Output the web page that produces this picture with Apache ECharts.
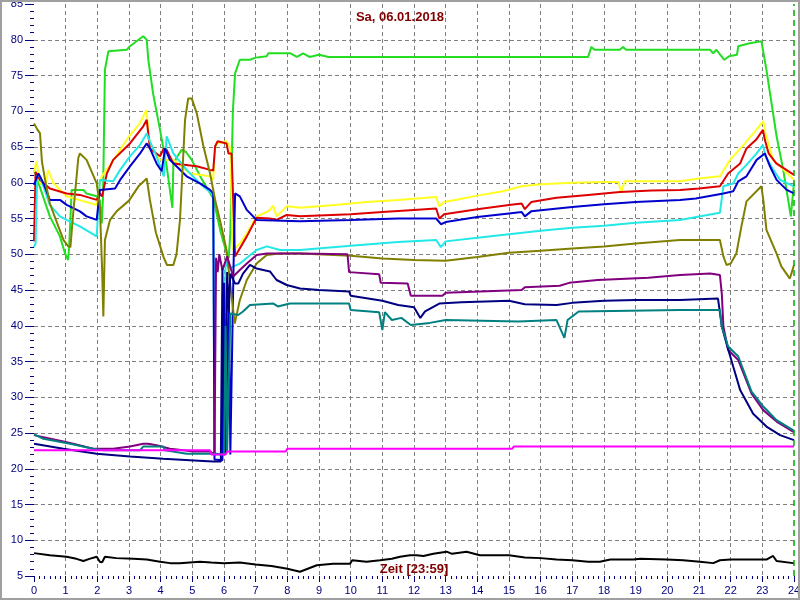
<!DOCTYPE html>
<html><head><meta charset="utf-8">
<script src="https://cdn.jsdelivr.net/npm/echarts@6/dist/echarts.min.js"></script>
<style>html,body{margin:0;padding:0;background:#fff}#c{width:800px;height:600px}</style>
</head><body><div id="c"></div>
<script>
const titleText = 'Sa, 06.01.2018';
const xLabelText = 'Zeit [23:59]';
const yUnit = '°C';

const green = [[0,61.8],[0.1,60.5],[0.5,55.3],[0.82,52.5],[0.98,50.1],[1.08,49.2],[1.12,52],[1.19,59.0],[1.56,59.0],[1.66,58.5],[1.98,58.1],[2.08,57.5],[2.14,54.3],[2.18,58],[2.2,64],[2.24,75.8],[2.35,78.4],[2.93,78.6],[3.03,79.1],[3.24,79.8],[3.45,80.5],[3.56,80.0],[3.61,77.2],[3.76,72.5],[3.98,67.4],[4.19,62.3],[4.37,56.5],[4.4,62.5],[4.5,63.5],[4.66,64.6],[4.8,64.3],[4.98,63.2],[5.3,60.5],[5.66,57.8],[5.9,53],[6.08,50.2],[6.15,49.5],[6.2,53],[6.24,62],[6.28,70],[6.35,75.3],[6.5,77.2],[6.82,77.2],[7.0,77.5],[7.35,77.7],[7.4,78.1],[8.1,78.1],[8.3,77.6],[8.5,78.1],[8.7,77.6],[9.0,77.9],[9.3,77.6],[10,77.6],[12,77.6],[14,77.6],[16,77.6],[17.5,77.6],[17.6,79.0],[17.7,78.6],[18.5,78.6],[18.6,79.0],[18.7,78.6],[21.35,78.6],[21.45,78.1],[21.55,78.6],[21.8,77.2],[21.95,77.7],[22.2,77.9],[22.24,79.1],[22.6,79.5],[22.97,79.8],[23.03,79.8],[23.13,75.8],[23.45,66.5],[23.66,61.8],[23.9,55.3],[24,60]];
const yellow = [[0,61.5],[0.08,63.0],[0.19,59.9],[0.35,59.5],[0.45,61.8],[0.5,61.8],[0.6,60.0],[1.03,58.1],[1.5,57.5],[1.98,56.9],[2.08,60.0],[2.14,60.9],[2.44,62.7],[3.0,66.5],[3.34,68.3],[3.55,70.2],[3.66,65.1],[3.98,63.2],[4.4,63.2],[4.93,61.3],[5.56,60.9],[5.66,60.4],[5.72,65.0],[5.77,65.5],[6.08,65.8],[6.2,64.9],[6.25,55],[6.29,50.6],[6.5,51.5],[6.72,52.9],[7.03,55.3],[7.3,55.8],[7.45,56.2],[7.55,56.8],[7.66,55.3],[7.98,56.7],[8.4,56.5],[9.5,56.9],[10.5,57.3],[11.5,57.6],[12.7,58.0],[12.8,56.7],[12.95,57.3],[13.3,57.6],[14.0,58.2],[14.8,58.8],[15.4,59.5],[16.0,59.8],[17.0,60.0],[18.0,60.1],[18.45,60.1],[18.55,58.6],[18.65,60.2],[19.5,60.2],[20.4,60.2],[21.0,60.6],[21.66,60.9],[21.98,63.2],[22.45,65.5],[22.77,67.2],[23.03,68.6],[23.1,66.9],[23.34,63.2],[23.56,62.3],[24,60.4]];
const red = [[0,51.8],[0.05,61.5],[0.19,60.4],[0.5,59.2],[1.03,58.5],[1.45,58.3],[1.98,57.6],[2.08,58.5],[2.15,58.1],[2.3,61.3],[2.5,63.2],[3.03,65.5],[3.45,67.9],[3.56,68.8],[3.66,64.8],[3.98,63.7],[4.1,64.8],[4.19,64.6],[4.4,62.7],[5.14,62.3],[5.56,61.8],[5.66,61.7],[5.72,65.1],[5.8,65.8],[6.08,65.5],[6.14,64.1],[6.24,64.1],[6.28,63.9],[6.35,49.7],[6.72,52.5],[7.03,55.1],[7.45,55.0],[7.66,54.8],[7.98,55.5],[8.4,55.3],[10,55.6],[11,55.9],[12,56.2],[12.7,56.4],[12.8,55.0],[12.95,55.6],[14,56.3],[15,56.9],[15.4,57.1],[15.5,56.3],[15.7,57.3],[16.5,57.9],[17.5,58.3],[18.5,58.7],[19.5,58.9],[20.4,59.0],[21.0,59.2],[21.66,59.5],[21.92,61.3],[22.3,62.7],[22.5,64.8],[22.8,66.0],[23.02,67.4],[23.08,66.0],[23.2,64.1],[23.44,62.7],[24,61.1]];
const cyan = [[0,51.0],[0.05,51.5],[0.1,61.0],[0.19,60.9],[0.5,56.9],[0.82,55.3],[1.03,54.8],[1.45,53.9],[1.98,52.5],[2.03,52.3],[2.08,60.4],[2.5,60.2],[2.72,61.8],[3.03,63.7],[3.35,65.3],[3.56,66.9],[3.66,65.8],[3.87,63.7],[3.98,62.3],[4.1,60.9],[4.19,66.5],[4.4,64.1],[4.82,61.8],[5.24,59.9],[5.66,58.3],[5.7,22],[5.95,22],[6.05,49],[6.15,48],[6.3,48.3],[6.5,48.7],[7.03,50.6],[7.35,51.1],[7.77,50.6],[8.4,50.6],[10,51.2],[11.5,51.7],[12.7,52.0],[12.85,51.0],[13.0,51.8],[14,52.3],[15,52.8],[16,53.3],[17,53.7],[18,54.0],[19,54.4],[20.4,54.8],[21.66,55.8],[21.77,59.5],[22.08,59.9],[22.24,61.3],[22.5,62.5],[22.82,64.1],[23.02,65.3],[23.1,63.7],[23.35,61.8],[23.56,60.4],[24,59.5]];
const blue = [[0,59.7],[0.14,61.3],[0.3,59.9],[0.5,57.6],[0.82,57.6],[1.03,56.9],[1.45,56.0],[1.66,55.3],[1.98,54.8],[2.03,54.6],[2.08,59.0],[2.56,59.2],[2.72,60.4],[3.03,62.3],[3.35,64.1],[3.56,65.5],[3.66,64.8],[3.87,62.7],[4.03,61.6],[4.14,64.8],[4.29,63.2],[4.5,62.3],[4.82,60.9],[5.24,59.9],[5.56,59.0],[5.66,58.5],[5.7,21.3],[5.95,21.2],[6.0,46],[6.05,22],[6.15,45],[6.2,22],[6.3,48],[6.35,58.5],[6.5,58.1],[6.72,56.2],[7.03,54.8],[8.4,54.6],[10,54.8],[11.5,55.0],[12.7,55.0],[12.85,54.2],[13.0,54.5],[14,55.2],[15,55.7],[15.4,55.9],[15.5,55.3],[15.7,56.0],[17,56.6],[18,57.0],[19,57.3],[20.4,57.6],[20.9,57.8],[21.77,58.5],[22.08,58.8],[22.24,60.2],[22.5,60.9],[22.82,63.2],[23.08,64.1],[23.24,62.3],[23.45,60.4],[23.77,59.0],[24,58.5]];
const olive = [[0,68.3],[0.1,67.5],[0.19,66.9],[0.25,63],[0.35,60.4],[0.5,57.1],[0.77,53.9],[0.93,52.0],[1.08,51.1],[1.15,51.0],[1.24,55.8],[1.4,63.5],[1.45,64.1],[1.66,63.2],[1.98,59.9],[2.08,56.7],[2.15,48],[2.19,41.3],[2.24,52.0],[2.4,54.8],[2.61,56.0],[3.0,57.5],[3.3,59.5],[3.56,60.6],[3.66,57.6],[3.85,53],[4.1,49.5],[4.2,48.5],[4.4,48.5],[4.5,50],[4.61,54.8],[4.77,68.8],[4.87,71.8],[4.98,71.8],[5.14,69.7],[5.35,65.1],[5.56,61.3],[5.72,57.6],[5.87,54.8],[6.08,50.6],[6.24,44.1],[6.34,40.3],[6.5,43.6],[6.72,46.4],[7.03,48.7],[7.35,49.9],[7.77,50.1],[8.4,50.1],[10,49.8],[11,49.4],[12,49.2],[13,49.1],[14,49.6],[15,50.2],[16,50.5],[17,50.8],[18,51.1],[19,51.5],[20.4,52.0],[21.66,52.0],[21.77,49.7],[21.87,48.5],[22.0,48.7],[22.18,50.1],[22.34,53.9],[22.5,57.4],[22.97,59.5],[23.03,57.6],[23.13,53.4],[23.45,50.1],[23.6,48.3],[23.87,46.6],[24,48.5]];
const purple = [[0,24.7],[0.93,23.8],[1.24,23.5],[1.87,22.8],[2.5,22.8],[3.03,23.1],[3.45,23.5],[3.6,23.5],[3.87,23.3],[4.29,22.8],[4.72,22.6],[5.03,22.4],[5.56,22.4],[5.7,22.0],[5.75,49.5],[5.8,47.5],[5.85,50],[5.95,47.8],[6.1,49.7],[6.29,46.9],[6.5,47.8],[6.72,48.7],[7.03,49.9],[7.35,50.1],[8.4,50.1],[9.9,50.0],[9.95,47.5],[10.9,47.2],[10.95,46.0],[11.8,45.9],[11.9,44.2],[12.9,44.2],[13.0,44.6],[15.4,45.0],[15.5,45.4],[16.6,45.6],[16.9,46.0],[17.8,46.4],[19.4,46.7],[20.4,47.1],[21.35,47.3],[21.66,47.1],[21.72,44.5],[21.77,39.9],[21.92,36.6],[22.24,35.2],[22.66,30.5],[23.03,28.2],[23.45,26.6],[23.97,25.2],[24,25.1]];
const navy = [[0,23.5],[0.93,22.8],[1.98,22.1],[3.03,21.7],[4.08,21.4],[5.35,21.1],[5.66,21.0],[5.9,21.0],[5.95,48],[6.0,22],[6.1,47.5],[6.15,42],[6.2,47.3],[6.35,45.9],[6.45,45.9],[6.6,47.3],[6.82,48.5],[7.03,48.0],[7.45,47.6],[7.66,46.4],[7.98,45.7],[8.4,45.2],[9.0,45.0],[9.95,44.8],[10.0,44.2],[11.0,43.5],[11.5,42.9],[12.0,42.6],[12.2,41.1],[12.35,42.0],[12.8,43.1],[13.5,43.3],[15.0,43.5],[15.5,43.0],[16.5,42.9],[17.0,43.2],[18.0,43.5],[19.0,43.6],[20.4,43.6],[21.6,43.8],[21.66,43.6],[21.72,39.9],[21.87,37.5],[22.08,34.3],[22.3,31.0],[22.71,27.7],[23.13,25.9],[23.56,24.7],[24,24.0]];
const teal = [[0,24.8],[0.3,24.2],[1.14,23.5],[1.87,22.8],[2.19,22.6],[3.35,22.6],[3.45,23.1],[4.08,23.1],[4.14,22.6],[4.82,22.1],[5.77,22.1],[6.0,22.0],[6.05,40],[6.1,22.5],[6.2,41.7],[6.45,41.5],[6.6,42.0],[6.82,42.9],[7.56,43.1],[7.7,42.7],[8.08,43.1],[9.95,43.1],[10.0,42.2],[10.9,41.9],[11.0,39.4],[11.08,41.9],[11.3,40.8],[11.6,41.1],[11.9,40.1],[12.5,40.4],[13.0,40.8],[15.3,40.6],[16.5,40.8],[16.75,38.3],[16.85,40.8],[17.2,42.0],[20.4,42.2],[21.66,42.2],[21.72,39.9],[21.92,37.1],[22.24,35.7],[22.66,30.8],[23.03,28.7],[23.45,26.8],[23.97,25.4],[24,25.3]];
const magenta = [[0,22.6],[5.55,22.6],[5.6,22.0],[6.05,22.0],[6.1,22.4],[7.95,22.4],[8.0,22.8],[15.1,22.8],[15.15,23.1],[24,23.1]];
const black = [[0,8.2],[0.5,7.9],[1.03,7.7],[1.34,7.4],[1.56,7.1],[1.75,7.4],[1.98,7.7],[2.08,7.0],[2.15,6.9],[2.24,7.7],[2.6,7.5],[3.14,7.4],[3.56,7.3],[3.98,7.0],[4.3,6.8],[4.6,6.8],[5.24,7.0],[5.6,6.9],[6.0,6.8],[6.5,6.9],[7.0,6.6],[7.5,6.4],[8.0,6.0],[8.4,5.6],[8.93,6.5],[9.45,6.7],[9.98,6.7],[10.05,7.2],[10.5,7.0],[10.93,7.2],[11.3,7.4],[11.56,7.7],[11.87,7.9],[12.08,7.9],[12.3,7.8],[12.61,8.1],[13.03,8.4],[13.2,8.1],[13.66,8.4],[14.08,7.9],[14.71,7.9],[15.0,7.9],[15.5,7.6],[16.0,7.5],[16.5,7.3],[17.0,7.2],[17.5,7.0],[17.87,7.0],[18.2,7.3],[18.93,7.3],[19.14,7.4],[19.98,7.3],[20.5,7.2],[21.03,7.0],[21.45,6.8],[21.66,7.2],[22.0,7.3],[23.13,7.3],[23.34,7.8],[23.45,7.1],[23.97,6.8],[24,6.8]];

const seriesDefs = [
  ['green', green, '#22dd22'],
  ['yellow', yellow, '#ffff22'],
  ['red', red, '#dd0000'],
  ['cyan', cyan, '#22e8e8'],
  ['blue', blue, '#0000cc'],
  ['olive', olive, '#808000'],
  ['purple', purple, '#800080'],
  ['navy', navy, '#000080'],
  ['teal', teal, '#008080'],
  ['magenta', magenta, '#ff00ff'],
  ['black', black, '#000000']
];

const FONT = 'Liberation Sans, Arial, sans-serif';
const chart = echarts.init(document.getElementById('c'), null, {renderer:'canvas'});
const series = seriesDefs.map(([name, data, color]) => ({
  name, type:'line', data, showSymbol:false, symbol:'none', animation:false,
  lineStyle:{color, width:2}, itemStyle:{color}, z:2
}));
series[series.length-1].markLine = {
  silent:true, symbol:'none', label:{show:false}, animation:false,
  lineStyle:{color:'#00aa00', type:[6,4], width:1.5},
  data:[{xAxis:24}]
};
chart.setOption({
  animation:false,
  backgroundColor:'#ffffff',
  grid:{left:34, right:6, top:4, bottom:24, containLabel:false, outerBoundsMode:'none'},
  xAxis:{type:'value', min:0, max:24, interval:1,
    axisLine:{show:false},
    axisTick:{show:true, length:6, lineStyle:{color:'#000080'}},
    minorTick:{show:true, splitNumber:6, length:3, lineStyle:{color:'#000080'}},
    axisLabel:{color:'#000080', fontSize:11, fontFamily:FONT, margin:9},
    splitLine:{show:true, showMinLine:false, showMaxLine:false, lineStyle:{color:'#808080', type:[4,3], width:1}}
  },
  yAxis:{type:'value', min:5, max:85, interval:5,
    name:yUnit, nameLocation:'middle', nameRotate:90, nameGap:22,
    nameTextStyle:{color:'#800000', fontSize:13, fontFamily:FONT},
    axisLine:{show:false},
    axisTick:{show:true, length:9, lineStyle:{color:'#000080'}},
    minorTick:{show:true, splitNumber:5, length:4, lineStyle:{color:'#000080'}},
    axisLabel:{color:'#000080', fontSize:11, fontFamily:FONT, margin:11},
    splitLine:{show:true, showMinLine:false, showMaxLine:false, lineStyle:{color:'#808080', type:[4,3], width:1}}
  },
  graphic:[
    {type:'rect', shape:{x:1, y:1, width:798, height:598}, style:{fill:null, stroke:'#a0a0a0', lineWidth:2}, silent:true, z:100},
    {type:'text', x:400, y:17, style:{text:titleText, fill:'#800000', font:'bold 13px '+FONT, textAlign:'center', textVerticalAlign:'middle'}, z:100},
    {type:'text', x:414, y:569, style:{text:xLabelText, fill:'#800000', font:'bold 13px '+FONT, textAlign:'center', textVerticalAlign:'middle'}, z:100}
  ],
  series
});
</script></body></html>
